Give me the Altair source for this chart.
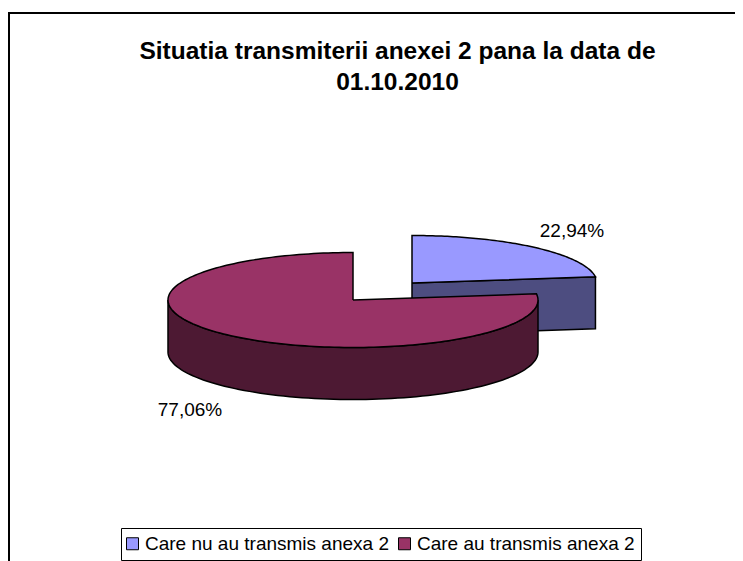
import math
import altair as alt
import pandas as pd

categories = ["Care nu au transmis anexa 2", "Care au transmis anexa 2"]
shares = [22.94, 77.06]
labels = ["22,94%", "77,06%"]
title_lines = ["Situatia transmiterii anexei 2 pana la data de", "01.10.2010"]
top_colors = ["#9999FF", "#993366"]
side_colors = ["#4D4D80", "#4D1933"]

RX, RY, DEPTH = 185.0, 47.5, 52.0
W, H = 727, 553
OFF = 8  # page margin, pixel coordinates below are page coordinates


def ell(cx, cy, deg, dy=0.0):
    t = math.radians(deg)
    return (cx + RX * math.sin(t), cy - RY * math.cos(t) + dy)


def arc(cx, cy, a0, a1, dy=0.0, n=90):
    return [ell(cx, cy, a0 + (a1 - a0) * i / n, dy) for i in range(n + 1)]


split = shares[0] / sum(shares) * 360
blue_c = (412.0, 283.0)
red_c = (353.0, 300.0)

polys = []
# blue side wall
tip = ell(*blue_c, split)
polys.append(("b_side", side_colors[0], [blue_c, tip, (tip[0], tip[1] + DEPTH), (blue_c[0], blue_c[1] + DEPTH), blue_c]))
# blue top
polys.append(("b_top", top_colors[0], [blue_c] + arc(*blue_c, 0, split) + [blue_c]))
# red side wall
front = arc(*red_c, 90, 270)
polys.append(("r_side", side_colors[1], front + [(x, y + DEPTH) for x, y in reversed(front)] + [front[0]]))
# red top
polys.append(("r_top", top_colors[1], [red_c] + arc(*red_c, split, 360, n=180) + [red_c]))

x_s = alt.Scale(domain=[OFF, OFF + W], range=[0, W], nice=False, zero=False)
y_s = alt.Scale(domain=[OFF, OFF + H], range=[0, H], nice=False, zero=False)
X = lambda f: alt.X(f, type="quantitative", scale=x_s, axis=None)
Y = lambda f: alt.Y(f, type="quantitative", scale=y_s, axis=None)

layers = []
for name, col, pts in polys:
    df = pd.DataFrame({"x": [p[0] for p in pts], "y": [p[1] for p in pts], "o": range(len(pts))})
    layers.append(
        alt.Chart(df).mark_line(fill=col, stroke="black", strokeWidth=1.5, strokeJoin="miter", clip=False).encode(
            x=X("x"), y=Y("y"), order=alt.Order("o:Q")
        )
    )

frame = pd.DataFrame({"x": [9, 9, 760], "y": [600, 13, 13], "o": [0, 1, 2]})
layers.append(
    alt.Chart(frame).mark_line(stroke="black", strokeWidth=2, clip=True).encode(x=X("x"), y=Y("y"), order=alt.Order("o:Q"))
)

titles = pd.DataFrame({"x": [397.5, 397.5], "y": [51.5, 82.5], "t": title_lines})
layers.append(
    alt.Chart(titles).mark_text(font="Liberation Sans", fontSize=24.5, fontWeight="bold", color="black").encode(
        x=X("x"), y=Y("y"), text="t:N"
    )
)
lab = pd.DataFrame({"x": [572, 190], "y": [231, 410], "t": labels})
layers.append(
    alt.Chart(lab).mark_text(font="Liberation Sans", fontSize=19, color="black").encode(x=X("x"), y=Y("y"), text="t:N")
)

leg = pd.DataFrame({"c": categories, "x": [0, 0], "y": [0, 0]})
layers.append(
    alt.Chart(leg).mark_point(filled=True, size=0, opacity=0).encode(
        x=X("x"),
        y=Y("y"),
        color=alt.Color(
            "c:N",
            sort=categories,
            scale=alt.Scale(domain=categories, range=top_colors),
            legend=alt.Legend(
                title=None,
                orient="none",
                direction="horizontal",
                legendX=113,
                legendY=520,
                symbolType="square",
                symbolSize=144,
                symbolOffset=-4,
                symbolOpacity=1,
                symbolStrokeColor="black",
                symbolStrokeWidth=1,
                labelFont="Liberation Sans",
                labelFontSize=19,
                labelColor="black",
                labelLimit=400,
                labelOffset=3,
                columnPadding=7,
                strokeColor="black",
                padding=6,
            ),
        ),
    )
)

chart = alt.layer(*layers).properties(
    width=W, height=H, padding=0, background="white", autosize=alt.AutoSizeParams(type="none")
).configure_view(stroke=None)
chart.save("out.html", embed_options={"renderer": "svg", "actions": False})
